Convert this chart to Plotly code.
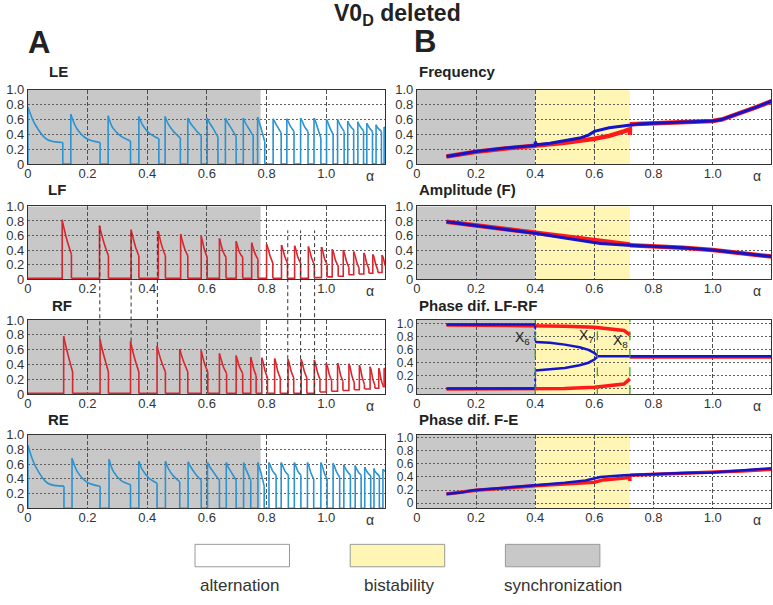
import plotly.graph_objects as go

W, H = 773, 605

# ---------------- Panel A : activity traces ----------------
# burst onsets / offsets (alpha), peak, two knee values, end value, trough after burst
le_on   = [0.000, 0.144, 0.269, 0.372, 0.460, 0.536, 0.601, 0.662, 0.722, 0.770, 0.822, 0.868, 0.914, 0.959, 1.001, 1.038, 1.072, 1.106, 1.136, 1.167, 1.194]
le_off  = [0.117, 0.242, 0.344, 0.439, 0.511, 0.581, 0.637, 0.698, 0.755, 0.794, 0.849, 0.892, 0.939, 0.982, 1.023, 1.060, 1.092, 1.125, 1.155, 1.185, 1.230]
le_peak = [0.77, 0.67, 0.65, 0.64, 0.64, 0.62, 0.62, 0.62, 0.62, 0.63, 0.61, 0.61, 0.62, 0.62, 0.60, 0.60, 0.58, 0.57, 0.55, 0.53, 0.50]
le_k1   = [0.54, 0.48, 0.49, 0.52, 0.54, 0.55, 0.56, 0.56, 0.56, 0.57, 0.57, 0.57, 0.58, 0.58, 0.56, 0.56, 0.54, 0.53, 0.52, 0.50, 0.48]
le_k2   = [0.33, 0.34, 0.38, 0.41, 0.44, 0.47, 0.48, 0.48, 0.48, 0.46, 0.50, 0.50, 0.50, 0.48, 0.48, 0.50, 0.50, 0.49, 0.48, 0.47, 0.46]
le_end  = [0.29, 0.29, 0.31, 0.34, 0.35, 0.38, 0.36, 0.37, 0.38, 0.30, 0.42, 0.44, 0.44, 0.35, 0.40, 0.44, 0.46, 0.45, 0.44, 0.44, 0.44]
le_tr   = [0.0] * 21

lf_on   = [0.115, 0.240, 0.346, 0.437, 0.512, 0.581, 0.642, 0.698, 0.750, 0.800, 0.850, 0.894, 0.940, 0.984, 1.020, 1.057, 1.092, 1.126, 1.156, 1.187]
lf_off  = [0.146, 0.270, 0.372, 0.461, 0.536, 0.601, 0.664, 0.720, 0.771, 0.821, 0.870, 0.914, 0.960, 1.003, 1.040, 1.076, 1.110, 1.143, 1.173, 1.205]
lf_peak = [0.815, 0.735, 0.68, 0.66, 0.62, 0.59, 0.56, 0.52, 0.50, 0.48, 0.47, 0.46, 0.45, 0.44, 0.41, 0.40, 0.38, 0.36, 0.34, 0.33]
lf_k1   = [0.70, 0.63, 0.59, 0.57, 0.54, 0.52, 0.49, 0.46, 0.44, 0.43, 0.42, 0.41, 0.40, 0.40, 0.37, 0.36, 0.34, 0.33, 0.31, 0.30]
lf_k2   = [0.52, 0.48, 0.45, 0.44, 0.42, 0.40, 0.38, 0.36, 0.35, 0.32, 0.31, 0.30, 0.29, 0.28, 0.26, 0.25, 0.24, 0.22, 0.21, 0.20]
lf_end  = [0.34, 0.32, 0.32, 0.32, 0.32, 0.30, 0.30, 0.30, 0.27, 0.22, 0.22, 0.22, 0.20, 0.20, 0.18, 0.16, 0.15, 0.14, 0.12, 0.12]
lf_tr   = [0.01, 0.01, 0.01, 0.01, 0.01, 0.01, 0.01, 0.01, 0.01, 0.01, 0.01, 0.01, 0.02, 0.03, 0.04, 0.06, 0.07, 0.08, 0.09, 0.10]

rf_on   = [0.120, 0.242, 0.344, 0.433, 0.509, 0.581, 0.642, 0.698, 0.747, 0.784, 0.827, 0.872, 0.916, 0.960, 1.000, 1.038, 1.076, 1.111, 1.147, 1.176, 1.194]
rf_off  = [0.150, 0.270, 0.372, 0.461, 0.536, 0.603, 0.666, 0.720, 0.765, 0.803, 0.846, 0.891, 0.935, 0.979, 1.018, 1.056, 1.094, 1.128, 1.163, 1.190, 1.230]
rf_peak = [0.78, 0.74, 0.71, 0.65, 0.61, 0.59, 0.55, 0.52, 0.50, 0.49, 0.48, 0.47, 0.47, 0.46, 0.42, 0.42, 0.41, 0.39, 0.37, 0.35, 0.35]
rf_k1   = [0.67, 0.63, 0.61, 0.56, 0.53, 0.51, 0.48, 0.46, 0.44, 0.44, 0.43, 0.42, 0.42, 0.41, 0.38, 0.38, 0.37, 0.35, 0.33, 0.31, 0.33]
rf_k2   = [0.50, 0.48, 0.46, 0.43, 0.42, 0.40, 0.37, 0.36, 0.34, 0.32, 0.31, 0.31, 0.31, 0.30, 0.27, 0.26, 0.25, 0.23, 0.21, 0.20, 0.30]
rf_end  = [0.30, 0.30, 0.30, 0.30, 0.30, 0.30, 0.28, 0.28, 0.25, 0.22, 0.22, 0.22, 0.22, 0.20, 0.18, 0.17, 0.15, 0.13, 0.12, 0.12, 0.30]
rf_tr   = [0.01] * 13 + [0.03, 0.04, 0.05, 0.06, 0.07, 0.08, 0.10, 0.10]

re_on   = [0.000, 0.148, 0.272, 0.372, 0.461, 0.537, 0.602, 0.665, 0.723, 0.771, 0.808, 0.849, 0.893, 0.937, 0.982, 1.023, 1.059, 1.097, 1.129, 1.160, 1.190]
re_off  = [0.121, 0.242, 0.344, 0.433, 0.509, 0.581, 0.642, 0.698, 0.747, 0.792, 0.832, 0.873, 0.915, 0.958, 1.003, 1.045, 1.081, 1.117, 1.149, 1.178, 1.230]
re_peak = [0.855, 0.68, 0.665, 0.64, 0.64, 0.63, 0.62, 0.62, 0.62, 0.62, 0.62, 0.62, 0.62, 0.62, 0.62, 0.61, 0.59, 0.58, 0.56, 0.54, 0.53]
re_k1   = [0.58, 0.49, 0.50, 0.52, 0.54, 0.56, 0.56, 0.56, 0.56, 0.56, 0.58, 0.58, 0.58, 0.58, 0.58, 0.57, 0.55, 0.54, 0.52, 0.50, 0.50]
re_k2   = [0.34, 0.35, 0.38, 0.41, 0.44, 0.47, 0.48, 0.48, 0.48, 0.46, 0.50, 0.50, 0.50, 0.48, 0.48, 0.49, 0.50, 0.49, 0.48, 0.47, 0.47]
re_end  = [0.30, 0.30, 0.32, 0.34, 0.36, 0.38, 0.38, 0.38, 0.38, 0.30, 0.45, 0.45, 0.45, 0.40, 0.40, 0.42, 0.45, 0.45, 0.44, 0.44, 0.44]
re_tr   = [0.0] * 21

# dashed connectors between LF and RF (alpha, LF value at top, RF value at bottom)
sync_dash_x   = [0.241, 0.346, 0.434]
sync_dash_top = [0.73, 0.68, 0.66]
sync_dash_bot = [0.74, 0.71, 0.65]
alt_dash_x    = [0.871, 0.914, 0.961]
alt_dash_top  = [0.67, 0.67, 0.67]
alt_dash_bot  = [0.0, 0.0, 0.0]

a_sync_region = [0.0, 0.78]

# ---------------- Panel B : measures ----------------
freq_b_x = [0.10, 0.15, 0.20, 0.30, 0.40, 0.400, 0.405, 0.45, 0.50, 0.55, 0.58, 0.60, 0.65, 0.70, 0.75, 0.80, 0.90, 1.00, 1.03, 1.06, 1.10, 1.15, 1.20]
freq_b_y = [0.10, 0.14, 0.17, 0.215, 0.25, 0.30, 0.26, 0.28, 0.31, 0.35, 0.39, 0.44, 0.49, 0.52, 0.54, 0.55, 0.56, 0.58, 0.60, 0.64, 0.70, 0.77, 0.85]
freq_r_x = [0.10, 0.20, 0.30, 0.40, 0.50, 0.60, 0.65, 0.70, 0.72, 0.72, None, 0.72, 0.75, 0.80, 0.90, 1.00, 1.03, 1.06, 1.10, 1.15, 1.20]
freq_r_y = [0.10, 0.165, 0.21, 0.245, 0.285, 0.34, 0.38, 0.44, 0.47, 0.39, None, 0.535, 0.54, 0.55, 0.56, 0.58, 0.60, 0.64, 0.70, 0.77, 0.85]

amp_b_x = [0.10, 0.20, 0.30, 0.40, 0.50, 0.60, 0.62, 0.70, 0.80, 0.90, 1.00, 1.10, 1.20]
amp_b_y = [0.79, 0.74, 0.685, 0.63, 0.565, 0.505, 0.49, 0.47, 0.455, 0.43, 0.40, 0.36, 0.31]
amp_r_x = [0.10, 0.20, 0.30, 0.40, 0.50, 0.60, 0.70, 0.72, None, 0.72, 0.80, 0.90, 1.00, 1.10, 1.20]
amp_r_y = [0.79, 0.74, 0.69, 0.645, 0.60, 0.55, 0.49, 0.475, None, 0.465, 0.455, 0.43, 0.40, 0.36, 0.31]

# phase LF-RF
ph_r_x = [0.10, 0.40, 0.50, 0.60, 0.65, 0.70, 0.72, None, 0.10, 0.40, 0.50, 0.60, 0.65, 0.70, 0.72, None, 0.72, 1.20]
ph_r_y = [0.985, 0.975, 0.965, 0.95, 0.93, 0.90, 0.83, None, -0.005, -0.01, 0.0, 0.02, 0.04, 0.07, 0.15, None, 0.49, 0.49]
ph_b_x = [0.10, 0.40, None, 0.10, 0.40, None, 0.40, 0.45, 0.50, 0.55, 0.58, 0.60, 0.61, None, 0.40, 0.45, 0.50, 0.55, 0.58, 0.60, 0.61, None, 0.61, 1.20]
ph_b_y = [0.99, 0.99, None, 0.0, 0.0, None, 0.72, 0.71, 0.68, 0.64, 0.60, 0.55, 0.51, None, 0.28, 0.295, 0.32, 0.36, 0.40, 0.45, 0.49, None, 0.50, 0.50]
ph_bdot_x = [0.40, 0.40, None, 0.40, 0.40]
ph_bdot_y = [0.97, 0.74, None, 0.02, 0.26]
ph_marks_x = [0.40, 0.61, 0.72]
ph_marks_lbl = ["X<sub>6</sub>", "X<sub>7</sub>", "X<sub>8</sub>"]
ph_marks_lx = [0.356, 0.575, 0.688]
ph_marks_ly = [0.79, 0.81, 0.73]

# phase F-E
fe_b_x = [0.10, 0.15, 0.18, 0.20, 0.30, 0.40, 0.50, 0.57, 0.60, 0.62, 0.70, 0.80, 0.90, 1.00, 1.10, 1.20]
fe_b_y = [0.14, 0.16, 0.19, 0.20, 0.235, 0.27, 0.31, 0.345, 0.38, 0.40, 0.425, 0.445, 0.46, 0.47, 0.50, 0.535]
fe_r_x = [0.10, 0.20, 0.40, 0.50, 0.60, 0.63, 0.70, 0.72, 0.72, None, 0.72, 0.80, 0.90, 1.00, 1.10, 1.20]
fe_r_y = [0.14, 0.195, 0.265, 0.29, 0.32, 0.355, 0.385, 0.39, 0.34, None, 0.425, 0.44, 0.455, 0.465, 0.49, 0.52]

b_sync_region = [0.0, 0.40]
b_bist_region = [0.40, 0.72]

tick_vals = [0, 0.2, 0.4, 0.6, 0.8, 1.0]
tick_text = ["0", "0.2", "0.4", "0.6", "0.8", "1.0"]

legend_labels = ["alternation", "bistability", "synchronization"]

# ---------------- styling / layout ----------------
FONT = "Liberation Sans, Arial, sans-serif"
A_BLUE = "#2a93d2"
A_RED = "#d8262e"
B_RED = "#ff1a1a"
B_BLUE = "#1414c8"
GRAY = "#c8c8c8"
YELLOW = "#fff5b4"

def px_x(p):
    return p / W

def px_y(p):
    return 1 - p / H

xdomA = [px_x(24), px_x(383)]
xdomB = [px_x(415), px_x(771)]
rows_px = [(85, 161), (204.5, 279), (321, 397), (438.5, 514)]
ydoms = [[px_y(b), px_y(t)] for (t, b) in rows_px]
yr_A = [0, 1]
yr_B = [[0, 1], [0, 1], [-0.086, 1.06], [-0.08, 1.05]]
XR = [0, 1.197]

fig = go.Figure()
layout = dict(width=W, height=H, margin=dict(l=0, r=0, t=0, b=0),
              paper_bgcolor="white", plot_bgcolor="white", showlegend=False,
              font=dict(family=FONT, color="#222", size=13))

yranges = {}
for i in range(8):
    n = i + 1
    isA = i < 4
    r = i % 4
    xd = xdomA if isA else xdomB
    yr = yr_A if isA else yr_B[r]
    yranges[n] = (yr, ydoms[r])
    ysize = 12 if (not isA and r >= 2) else 13
    layout["xaxis" if n == 1 else f"xaxis{n}"] = dict(
        domain=xd, range=XR, anchor="y" if n == 1 else f"y{n}",
        tickvals=tick_vals, ticktext=tick_text, ticks="", ticklabelstandoff=-3,
        showgrid=True, gridcolor="#505050", gridwidth=1, griddash="4px,2px",
        showline=True, mirror=True, linecolor="#333", linewidth=1,
        zeroline=False, tickfont=dict(size=13, color="#333", family=FONT))
    layout["yaxis" if n == 1 else f"yaxis{n}"] = dict(
        domain=ydoms[r], range=yr, anchor="x" if n == 1 else f"x{n}",
        tickvals=tick_vals, ticktext=tick_text, ticks="",
        showgrid=True, gridcolor="#606060", gridwidth=1, griddash="2px,2px",
        showline=True, mirror=True, linecolor="#333", linewidth=1,
        zeroline=False, tickfont=dict(size=ysize, color="#333", family=FONT))

def axn(n):
    return ("x", "y") if n == 1 else (f"x{n}", f"y{n}")

def val_to_paper(n, v):
    (r0, r1), (d0, d1) = yranges[n]
    return d0 + (v - r0) / (r1 - r0) * (d1 - d0)

def add_bursts(n, on, off, peak, k1, k2, end, tr, color, start=0.0):
    xa, ya = axn(n)
    lx, ly, dx, dy = [], [], [], []
    px, pv = 0.0, start
    for i in range(len(on)):
        lx += [px, on[i], on[i], None]
        ly += [pv, pv, peak[i], None]
        d = off[i] - on[i]
        dx += [on[i], on[i] + 0.2 * d, on[i] + 0.55 * d, off[i], None]
        dy += [peak[i], k1[i], k2[i], end[i], None]
        lx += [off[i], off[i], None]
        ly += [end[i], tr[i], None]
        px, pv = off[i], tr[i]
    lx += [px, 1.3]
    ly += [pv, pv]
    fig.add_trace(go.Scatter(x=lx, y=ly, mode="lines", xaxis=xa, yaxis=ya,
                             line=dict(color=color, width=1.6), hoverinfo="skip"))
    fig.add_trace(go.Scatter(x=dx, y=dy, mode="lines", xaxis=xa, yaxis=ya,
                             line=dict(color=color, width=1.6, shape="spline", smoothing=0.9),
                             hoverinfo="skip"))

add_bursts(1, le_on, le_off, le_peak, le_k1, le_k2, le_end, le_tr, A_BLUE)
add_bursts(2, lf_on, lf_off, lf_peak, lf_k1, lf_k2, lf_end, lf_tr, A_RED, start=0.01)
add_bursts(3, rf_on, rf_off, rf_peak, rf_k1, rf_k2, rf_end, rf_tr, A_RED, start=0.01)
add_bursts(4, re_on, re_off, re_peak, re_k1, re_k2, re_end, re_tr, A_BLUE)

def add_b(n, x, y, color, width, dash=None):
    xa, ya = axn(n)
    fig.add_trace(go.Scatter(x=x, y=y, mode="lines", xaxis=xa, yaxis=ya,
                             line=dict(color=color, width=width, dash=dash),
                             connectgaps=False, hoverinfo="skip"))

add_b(5, freq_r_x, freq_r_y, B_RED, 4.5)
add_b(5, freq_b_x, freq_b_y, B_BLUE, 3)
add_b(6, amp_r_x, amp_r_y, B_RED, 4.5)
add_b(6, amp_b_x, amp_b_y, B_BLUE, 3)
add_b(7, ph_r_x, ph_r_y, B_RED, 3.5)
add_b(7, ph_b_x, ph_b_y, B_BLUE, 2.5)
add_b(7, ph_bdot_x, ph_bdot_y, B_BLUE, 2, dash="dot")
add_b(8, fe_r_x, fe_r_y, B_RED, 3.5)
add_b(8, fe_b_x, fe_b_y, B_BLUE, 2.5)

shapes = []
annotations = []

# background regions
for n in range(1, 9):
    xa, ya = axn(n)
    regs = [(a_sync_region, GRAY)] if n <= 4 else [(b_sync_region, GRAY), (b_bist_region, YELLOW)]
    for (reg, col) in regs:
        shapes.append(dict(type="rect", xref=xa, yref=f"{ya} domain", x0=reg[0], x1=reg[1],
                           y0=0, y1=1, fillcolor=col, line=dict(width=0), layer="below"))
    # alpha label
    annotations.append(dict(text="α", xref=xa, yref=f"{ya} domain", x=1.148, y=0,
                            yanchor="top", yshift=-2, showarrow=False,
                            font=dict(size=14, color="#333", family=FONT)))

# green dashed markers in phase LF-RF
for k, xv in enumerate(ph_marks_x):
    shapes.append(dict(type="line", xref="x7", yref="y7 domain", x0=xv, x1=xv, y0=0, y1=1,
                       line=dict(color="#2ca02c", width=1.2, dash="dash"), layer="above"))
    annotations.append(dict(text=ph_marks_lbl[k], xref="x7", yref="y7", x=ph_marks_lx[k],
                            y=ph_marks_ly[k], showarrow=False,
                            font=dict(size=14, color="#222", family=FONT)))

# LF-RF connectors
for xs, tops, bots in [(sync_dash_x, sync_dash_top, sync_dash_bot), (alt_dash_x, alt_dash_top, alt_dash_bot)]:
    for xv, tv, bv in zip(xs, tops, bots):
        shapes.append(dict(type="line", xref="x2", yref="paper", x0=xv, x1=xv,
                           y0=val_to_paper(3, bv), y1=val_to_paper(2, tv),
                           line=dict(color="#333", width=1, dash="4px,3px"), layer="above"))

# titles
def ann(text, x, y, size, xanchor="center", bold=True, color="#222"):
    annotations.append(dict(text=f"<b>{text}</b>" if bold else text, x=px_x(x), y=px_y(y),
                            xref="paper", yref="paper", xanchor=xanchor, yanchor="middle",
                            showarrow=False, font=dict(size=size, color=color, family=FONT)))

ann("V0<sub>D</sub> deleted", 396, 8, 23)
ann("A", 35, 36, 31)
ann("B", 423, 35, 31)
for t, x, y in [("LE", 43, 66), ("LF", 42, 187), ("RF", 46, 306), ("RE", 42, 423)]:
    ann(t, x, y, 15, xanchor="left")
for t, y in [("Frequency", 66), ("Amplitude (F)", 187), ("Phase dif. LF-RF", 306), ("Phase dif. F-E", 423)]:
    ann(t, 415, y, 15, xanchor="left")

# bottom legend
leg_boxes = [(192, 287, "white"), (348, 443, YELLOW), (504, 599, GRAY)]
leg_centers = [237, 397, 562]
for (x0, x1, col), lbl, cx in zip(leg_boxes, legend_labels, leg_centers):
    shapes.append(dict(type="rect", xref="paper", yref="paper", x0=px_x(x0), x1=px_x(x1),
                       y0=px_y(574), y1=px_y(551), fillcolor=col,
                       line=dict(color="#999", width=1)))
    ann(lbl, cx, 593, 17, bold=False, color="#333")

layout["shapes"] = shapes
layout["annotations"] = annotations
fig.update_layout(**layout)
fig.write_html("out.html", config={"displayModeBar": False},
               post_script="document.body.style.margin='0px';document.body.style.overflow='hidden';")
